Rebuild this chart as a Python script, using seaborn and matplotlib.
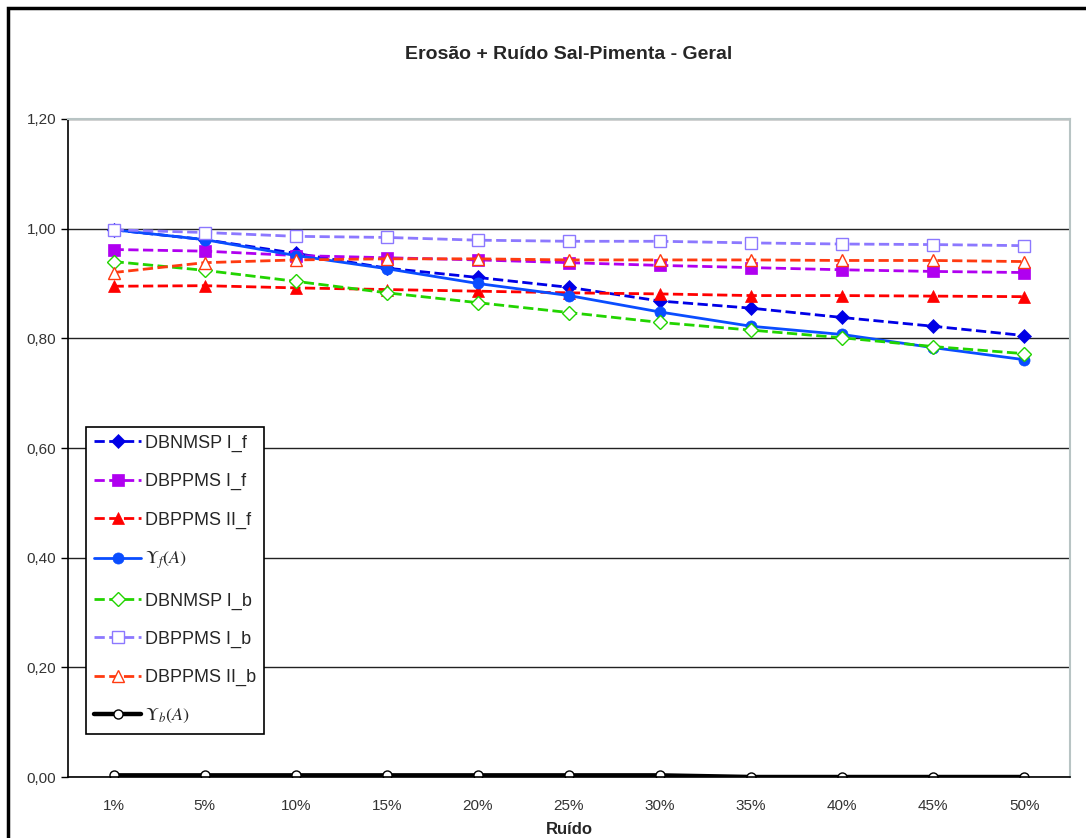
import numpy as np
import pandas as pd
import matplotlib
matplotlib.use("Agg")
import matplotlib.pyplot as plt
from matplotlib.patches import Rectangle
from matplotlib.ticker import FixedLocator, FuncFormatter
import seaborn as sns

sns.set_style("white")
plt.rcParams['font.family'] = ['Liberation Sans', 'DejaVu Sans']
plt.rcParams['mathtext.fontset'] = 'stix'

ruido = ['1%', '5%', '10%', '15%', '20%', '25%', '30%', '35%', '40%', '45%', '50%']

dbnmsp_i_f = [0.998, 0.980, 0.955, 0.928, 0.911, 0.893, 0.868, 0.855, 0.838, 0.822, 0.805]
dbppms_i_f = [0.962, 0.959, 0.951, 0.947, 0.943, 0.938, 0.933, 0.929, 0.925, 0.922, 0.920]
dbppms_ii_f = [0.895, 0.896, 0.892, 0.889, 0.886, 0.883, 0.881, 0.878, 0.878, 0.877, 0.876]
upsilon_f = [0.998, 0.980, 0.951, 0.927, 0.900, 0.878, 0.848, 0.822, 0.807, 0.783, 0.761]
dbnmsp_i_b = [0.940, 0.924, 0.904, 0.883, 0.865, 0.847, 0.829, 0.815, 0.801, 0.785, 0.772]
dbppms_i_b = [0.998, 0.993, 0.986, 0.984, 0.979, 0.977, 0.977, 0.974, 0.972, 0.971, 0.969]
dbppms_ii_b = [0.920, 0.938, 0.943, 0.945, 0.945, 0.943, 0.943, 0.943, 0.942, 0.942, 0.940]
upsilon_b = [0.003, 0.003, 0.003, 0.003, 0.003, 0.003, 0.003, 0.0, 0.0, 0.0, 0.0]

# (label, valores, cor, marcador, preenchido, estilo)
series = [
    ('DBNMSP I_f', dbnmsp_i_f, '#0000e6', 'D', True, '--'),
    ('DBPPMS I_f', dbppms_i_f, '#b000f0', 's', True, '--'),
    ('DBPPMS II_f', dbppms_ii_f, '#ff0000', '^', True, '--'),
    (r'$\Upsilon_f(A)$', upsilon_f, '#0a4dff', 'o', True, '-'),
    ('DBNMSP I_b', dbnmsp_i_b, '#22d400', 'D', False, '--'),
    ('DBPPMS I_b', dbppms_i_b, '#8c78ff', 's', False, '--'),
    ('DBPPMS II_b', dbppms_ii_b, '#ff3a10', '^', False, '--'),
    (r'$\Upsilon_b(A)$', upsilon_b, '#000000', 'o', False, '-'),
]

fig = plt.figure(figsize=(10.86, 8.38), dpi=100)
ax = fig.add_axes([68/1086, 1 - 777/838, (1070 - 68)/1086, (777 - 119)/838])

x = np.arange(len(ruido))
for label, vals, cor, mk, cheio, ls in series:
    df = pd.DataFrame({'x': x, 'y': vals})
    lw = 2.0
    ms = 8 if mk != 'D' else 7.5
    if label.startswith(r'$\Upsilon_b'):
        lw = 3.2
        ms = 6.5
    sns.lineplot(data=df, x='x', y='y', ax=ax, color=cor, linestyle=ls, linewidth=lw,
                 marker=mk, markersize=ms,
                 markerfacecolor=cor if cheio else 'white',
                 markeredgecolor=cor, markeredgewidth=1.0 if not cheio else 0.5,
                 label=label, dashes=(4, 3) if ls == '--' else '')

ax.set_xlim(-0.5, len(ruido) - 0.5)
ax.set_ylim(0, 1.2)
ax.set_xticks(x)
ax.set_xticklabels(ruido)
ax.xaxis.set_minor_locator(FixedLocator(np.arange(-0.5, len(ruido), 1.0)))
ax.tick_params(axis='x', which='major', length=0, pad=16, labelsize=11, colors='#333333')
ax.tick_params(axis='x', which='minor', length=7, width=1, color='black', direction='out')
ax.set_yticks(np.arange(0, 1.21, 0.2))
ax.yaxis.set_major_formatter(FuncFormatter(lambda v, p: f'{v:.2f}'.replace('.', ',')))
ax.tick_params(axis='y', length=5, width=1, color='black', direction='out', labelsize=11,
               labelcolor='#333333', left=True)
ax.grid(axis='y', color='#222222', linewidth=1.0)
ax.grid(axis='x', visible=False)

for lado in ['top', 'right']:
    ax.spines[lado].set_color('#b8c4c4')
    ax.spines[lado].set_linewidth(1.5)
ax.spines['left'].set_color('black')
ax.spines['bottom'].set_color('black')
ax.spines['left'].set_linewidth(1.2)
ax.spines['bottom'].set_linewidth(1.2)

ax.set_xlabel('Ruído', fontsize=12, fontweight='bold', labelpad=6)
ax.set_ylabel('')
ax.set_title('Erosão + Ruído Sal-Pimenta - Geral', fontsize=14, fontweight='bold', pad=43)

leg = ax.legend(loc='lower left', bbox_to_anchor=(0.018, 0.066), fontsize=13,
                frameon=True, fancybox=False, edgecolor='black', framealpha=1,
                borderpad=0.45, borderaxespad=0, labelspacing=1.17, handlelength=2.6,
                handletextpad=0.2)
leg.get_frame().set_linewidth(1.2)

fig.patches.append(Rectangle((8/1086, -0.1), 1.2, 1 - 8/838 + 0.1, transform=fig.transFigure,
                             fill=False, edgecolor='black', linewidth=2.5))

fig.savefig('out.png', dpi=100)
